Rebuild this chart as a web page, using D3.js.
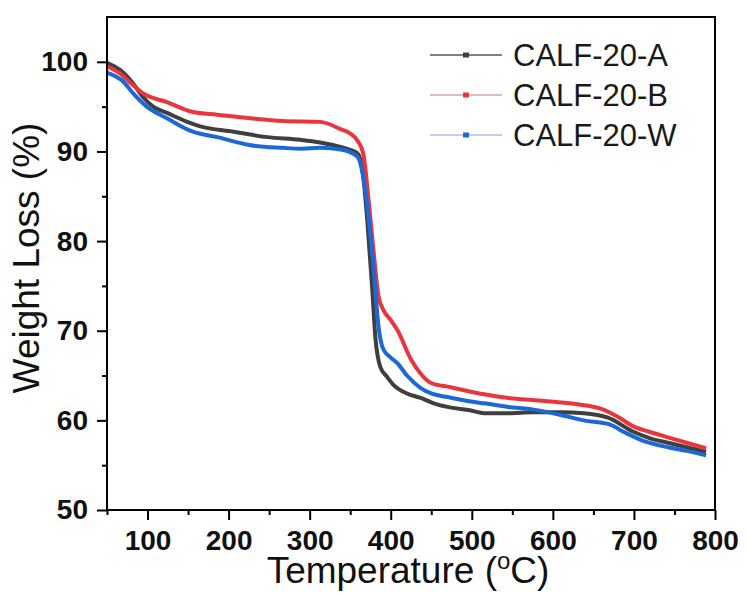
<!DOCTYPE html>
<html>
<head>
<meta charset="utf-8">
<script src="https://cdn.jsdelivr.net/npm/d3@7"></script>
<style>
  body { margin: 0; background: #fff; }
  text { font-family: "Liberation Sans", Arial, sans-serif; }
</style>
</head>
<body>
<div id="my_dataviz"></div>
<script>
// series names + colours
var seriesNames = ["CALF-20-A", "CALF-20-B", "CALF-20-W"];
var lineColors = ["#3f3f3f", "#e8363c", "#1b68d8"];
var legendLineColors = ["#555555", "#d9a3a7", "#a9c0dc"];

// temperature (°C) / weight (%)
var tempA = [50, 66, 82, 94, 107, 124, 149, 165, 206, 248, 288, 313, 338, 359, 365, 371, 377, 381, 387, 395, 403, 420, 437, 453, 470, 499, 515, 545, 576, 610, 638, 668, 700, 720, 742, 765, 789];
var wtA   = [99.9, 99.1, 97.6, 96.1, 95.0, 94.3, 93.3, 92.8, 92.2, 91.6, 91.3, 91.0, 90.5, 89.8, 88.0, 82.4, 74.9, 69.3, 66.0, 64.9, 64.0, 63.0, 62.5, 61.9, 61.5, 61.1, 60.8, 60.8, 60.9, 60.9, 60.8, 60.3, 58.7, 58.0, 57.5, 57.0, 56.5];

var tempB = [50, 66, 82, 94, 124, 156, 186, 227, 267, 313, 338, 350, 359, 366, 373, 379, 385, 391, 400, 408, 425, 437, 449, 474, 499, 536, 597, 630, 659, 680, 700, 720, 742, 765, 789];
var wtB   = [99.5, 98.7, 97.4, 96.5, 95.5, 94.4, 94.1, 93.7, 93.4, 93.3, 92.5, 92.0, 91.2, 89.8, 84.3, 78.7, 73.8, 72.3, 71.2, 70.1, 66.8, 65.2, 64.2, 63.7, 63.2, 62.6, 62.1, 61.8, 61.3, 60.4, 59.3, 58.7, 58.1, 57.5, 56.9];

var tempW = [50, 70, 82, 99, 124, 156, 186, 227, 267, 290, 313, 340, 359, 366, 373, 379, 385, 391, 400, 408, 420, 437, 450, 470, 499, 515, 545, 576, 610, 638, 668, 690, 709, 742, 765, 789];
var wtW   = [98.8, 97.8, 96.5, 95.0, 93.7, 92.2, 91.6, 90.7, 90.4, 90.3, 90.4, 90.2, 89.4, 87.2, 82.4, 76.8, 70.4, 67.9, 67.0, 66.4, 65.0, 63.6, 63.0, 62.6, 62.1, 61.9, 61.5, 61.2, 60.6, 60.0, 59.6, 58.6, 57.8, 57.0, 56.6, 56.1];

var xMajor = [100, 200, 300, 400, 500, 600, 700, 800];
var xMinor = [50, 150, 250, 350, 450, 550, 650, 750];
var yMajor = [50, 60, 70, 80, 90, 100];
var yMinor = [55, 65, 75, 85, 95];

var series = [
  {name: seriesNames[0], t: tempA, w: wtA},
  {name: seriesNames[1], t: tempB, w: wtB},
  {name: seriesNames[2], t: tempW, w: wtW}
];

var margin = {top: 17, right: 31, bottom: 83, left: 107};
var W = 746, H = 593;
var width = W - margin.left - margin.right;
var height = H - margin.top - margin.bottom;

var root = d3.select("#my_dataviz")
  .append("svg")
  .attr("width", W)
  .attr("height", H);
root.append("rect").attr("width", W).attr("height", H).attr("fill", "#fff");

var svg = root.append("g")
  .attr("transform", "translate(" + margin.left + "," + margin.top + ")");

var x = d3.scaleLinear().domain([50, 800]).range([0, width]);
var y = d3.scaleLinear().domain([50, 105]).range([height, 0]);

// curves
var line = d3.line()
  .x(function(d) { return x(d[0]) })
  .y(function(d) { return y(d[1]) })
  .curve(d3.curveMonotoneX);

series.forEach(function(s, i) {
  svg.append("path")
    .datum(s.t.map(function(t, j) { return [t, s.w[j]] }))
    .attr("d", line)
    .attr("fill", "none")
    .attr("stroke", lineColors[i])
    .attr("stroke-width", 4)
    .attr("stroke-linejoin", "round");
});

// frame
svg.append("rect")
  .attr("width", width)
  .attr("height", height)
  .attr("fill", "none")
  .attr("stroke", "#000")
  .attr("stroke-width", 2);

// x axis
svg.append("g")
  .attr("transform", "translate(0," + height + ")")
  .call(d3.axisBottom(x).tickValues(xMajor).tickSize(10).tickSizeOuter(0).tickPadding(10));
svg.append("g")
  .attr("transform", "translate(0," + height + ")")
  .call(d3.axisBottom(x).tickValues(xMinor).tickSize(5).tickSizeOuter(0).tickFormat(""));

// y axis
svg.append("g")
  .call(d3.axisLeft(y).tickValues(yMajor).tickSize(10).tickSizeOuter(0).tickPadding(9));
svg.append("g")
  .call(d3.axisLeft(y).tickValues(yMinor).tickSize(5).tickSizeOuter(0).tickFormat(""));

svg.selectAll(".domain").remove();
svg.selectAll(".tick line").attr("stroke", "#000").attr("stroke-width", 2);
svg.selectAll(".tick text")
  .attr("fill", "#111")
  .style("font-size", "28px")
  .style("font-weight", "bold")
  .style("font-family", "'Liberation Sans', Arial, sans-serif");

// axis titles
var xt = root.append("text")
  .attr("x", 408)
  .attr("y", 583)
  .attr("text-anchor", "middle")
  .attr("fill", "#111")
  .style("font-size", "37px");
xt.append("tspan").text("Temperature (");
xt.append("tspan").attr("dy", -14).style("font-size", "24px").text("o");
xt.append("tspan").attr("dy", 14).text("C)");

root.append("text")
  .attr("transform", "translate(39,258) rotate(-90)")
  .attr("text-anchor", "middle")
  .attr("fill", "#111")
  .style("font-size", "37px")
  .text("Weight Loss (%)");

// legend
var legend = root.append("g");
series.forEach(function(s, i) {
  var ly = 55 + i * 40;
  legend.append("line")
    .attr("x1", 430).attr("x2", 502)
    .attr("y1", ly).attr("y2", ly)
    .attr("stroke", legendLineColors[i])
    .attr("stroke-width", 1.5);
  legend.append("rect")
    .attr("x", 463).attr("y", ly - 2.5)
    .attr("width", 6).attr("height", 5)
    .attr("fill", lineColors[i]);
  legend.append("text")
    .attr("x", 513)
    .attr("y", ly + 11)
    .attr("fill", "#1a1a1a")
    .style("font-size", "31px")
    .text(s.name);
});
</script>
</body>
</html>
